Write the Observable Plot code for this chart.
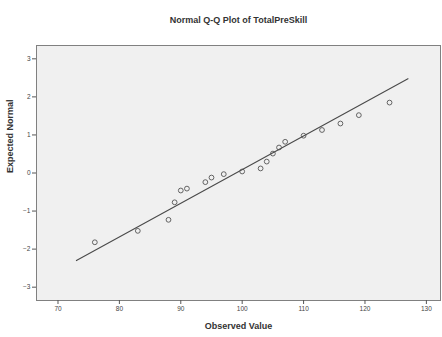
<!DOCTYPE html>
<html>
<head>
<meta charset="utf-8">
<script src="https://cdn.jsdelivr.net/npm/d3@7"></script>
<script src="https://cdn.jsdelivr.net/npm/@observablehq/plot@0.6"></script>
<style>
  html, body { margin: 0; padding: 0; background: #fff; }
  #chart svg { display: block; }
</style>
</head>
<body>
<div id="chart"></div>
<script>
const title = "Normal Q-Q Plot of TotalPreSkill";
const xLabel = "Observed Value";
const yLabel = "Expected Normal";

const observed = [76, 83, 88, 89, 90, 91, 94, 95, 97, 100, 103, 104, 105, 106, 107, 110, 113, 116, 119, 124];
const expected = [-1.82, -1.52, -1.23, -0.77, -0.46, -0.41, -0.24, -0.12, -0.03, 0.04, 0.12, 0.30, 0.51, 0.67, 0.82, 0.98, 1.13, 1.30, 1.52, 1.85];

// Reference line: normal distribution with this mean and sd, drawn over this x range
const lineMean = 99.0;
const lineSd = 11.3;
const lineXs = [73, 127];

const xTicks = [70, 80, 90, 100, 110, 120, 130];
const yTicks = [-3, -2, -1, 0, 1, 2, 3];

const points = observed.map((x, i) => ({x, y: expected[i]}));
const lineData = lineXs.map(x => ({x, y: (x - lineMean) / lineSd}));

const chart = Plot.plot({
  width: 442,
  height: 337,
  marginLeft: 36,
  marginRight: 2,
  marginTop: 45,
  marginBottom: 37,
  style: {fontFamily: "Arial, 'Liberation Sans', sans-serif", background: "#fff", color: "#333"},
  x: {domain: [66.5, 132.3], ticks: xTicks, label: null},
  y: {domain: [-3.35, 3.35], ticks: yTicks, label: null},
  marks: [
    Plot.frame({fill: "#f0f0f0", stroke: "none"}),
    Plot.line(lineData, {x: "x", y: "y", stroke: "#4a4a4a", strokeWidth: 1.1}),
    Plot.dot(points, {x: "x", y: "y", r: 2.4, stroke: "#555", strokeWidth: 0.9, fill: "none"}),
    Plot.frame({stroke: "#808080", strokeWidth: 1}),
    Plot.axisX({ticks: xTicks, tickSize: 4, tickPadding: 2, fontSize: 6.5, stroke: "#555", fill: "#444", label: null, tickFormat: d3.format("d")}),
    Plot.axisY({ticks: yTicks, tickSize: 4, tickPadding: 2, fontSize: 6.5, stroke: "#555", fill: "#444", label: null, tickFormat: d3.format("d")}),
    Plot.text([title], {frameAnchor: "top", dy: -29, fontSize: 9, fontWeight: "bold", fill: "#333", text: d => d}),
    Plot.text([xLabel], {frameAnchor: "bottom", dy: 28, fontSize: 9, fontWeight: "bold", fill: "#333", text: d => d}),
    Plot.text([yLabel], {frameAnchor: "left", dx: -26, rotate: -90, fontSize: 9, fontWeight: "bold", fill: "#333", text: d => d})
  ]
});
document.getElementById("chart").appendChild(chart);
</script>
</body>
</html>
